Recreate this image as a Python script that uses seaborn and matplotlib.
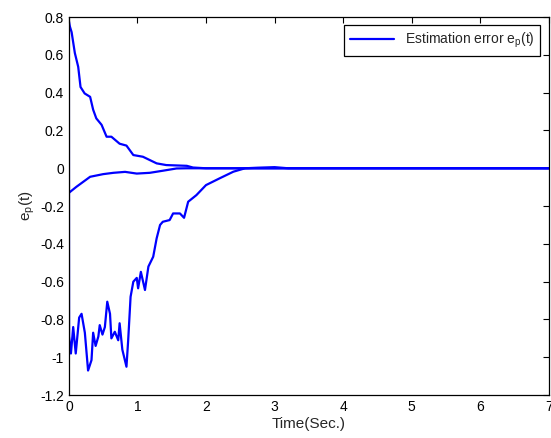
import numpy as np
import pandas as pd
import matplotlib
matplotlib.use("Agg")
import matplotlib.pyplot as plt
import seaborn as sns

# series 1: starts high, decays to zero
t1 = [0.0, 0.015, 0.04, 0.087, 0.136, 0.17, 0.23, 0.31, 0.354, 0.40, 0.477, 0.55,
      0.62, 0.74, 0.84, 0.94, 1.08, 1.28, 1.42, 1.72, 1.81, 2.0, 3.0, 7.0]
e1 = [0.78, 0.75, 0.72, 0.61, 0.537, 0.43, 0.396, 0.378, 0.31, 0.264, 0.23, 0.167,
      0.167, 0.13, 0.12, 0.07, 0.061, 0.026, 0.017, 0.013, 0.004, 0.0, 0.0, 0.0]

# series 2: small negative start
t2 = [0.0, 0.11, 0.31, 0.5, 0.65, 0.82, 0.99, 1.18, 1.37, 1.57, 1.72, 3.0, 7.0]
e2 = [-0.13, -0.098, -0.045, -0.031, -0.024, -0.019, -0.028, -0.024, -0.013,
      -0.001, 0.0, 0.0, 0.0]

# series 3: noisy negative start
t3 = [0.0, 0.003, 0.03, 0.063, 0.10, 0.15, 0.185, 0.233, 0.28, 0.33, 0.354, 0.39,
      0.43, 0.45, 0.49, 0.525, 0.56, 0.60, 0.62, 0.67, 0.72, 0.74, 0.78, 0.84,
      0.865, 0.90, 0.94, 0.99, 1.01, 1.05, 1.11, 1.16, 1.23, 1.28, 1.33, 1.37,
      1.47, 1.52, 1.62, 1.68, 1.74, 1.86, 2.0, 2.2, 2.4, 2.57, 2.75, 3.0, 3.2, 7.0]
e3 = [0.78, -0.89, -0.98, -0.84, -0.98, -0.79, -0.77, -0.87, -1.07, -1.015, -0.87,
      -0.94, -0.89, -0.83, -0.88, -0.84, -0.706, -0.77, -0.90, -0.865, -0.91, -0.82,
      -0.96, -1.05, -0.91, -0.68, -0.60, -0.58, -0.635, -0.548, -0.644, -0.52,
      -0.468, -0.371, -0.30, -0.283, -0.274, -0.239, -0.239, -0.262, -0.177,
      -0.142, -0.089, -0.053, -0.018, 0.0, 0.003, 0.006, 0.0, 0.0]

yticks = [-1.2, -1, -0.8, -0.6, -0.4, -0.2, 0, 0.2, 0.4, 0.6, 0.8]

sns.set_style("white")
plt.rcParams['font.family'] = ['Liberation Sans', 'DejaVu Sans']

fig = plt.figure(figsize=(5.51, 4.38), dpi=100)
ax = fig.add_axes([0.125, 0.098, 0.871, 0.863])

blue = '#0000ff'
sns.lineplot(x=t1, y=e1, ax=ax, color=blue, lw=1.6, sort=False,
             label='Estimation error e$_\\mathregular{p}$(t)')
sns.lineplot(x=t2, y=e2, ax=ax, color=blue, lw=1.6, sort=False)
sns.lineplot(x=t3, y=e3, ax=ax, color=blue, lw=1.6, sort=False)

ax.set_xlim(0, 7)
ax.set_ylim(-1.2, 0.8)
ax.set_xticks(range(0, 8))
ax.set_yticks(yticks)
ax.set_yticklabels([f"{v:g}" for v in yticks])
ax.tick_params(direction='in', length=4, width=0.8, top=True, right=True,
               labelsize=10, colors='black')
for s in ax.spines.values():
    s.set_color('black')
    s.set_linewidth(0.9)
    s.set_visible(True)

ax.set_xlabel('Time(Sec.)', fontsize=11, labelpad=2)
ax.set_ylabel('e$_\\mathregular{p}$(t)', fontsize=11, labelpad=2)

leg = ax.legend(loc='upper right', fontsize=10, fancybox=False, framealpha=1,
                edgecolor='black', borderaxespad=0.6, handlelength=3.2,
                borderpad=0.4)
leg.get_frame().set_linewidth(0.9)

fig.savefig('out.png', dpi=100)
